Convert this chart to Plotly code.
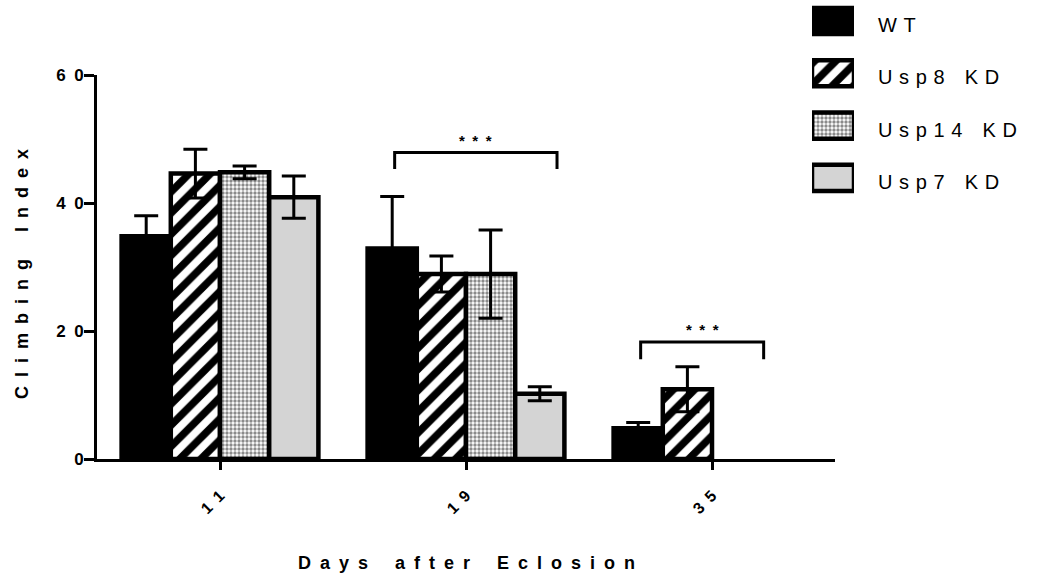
import plotly.graph_objects as go

# Climbing index per genotype at each age (mean and error)
days = ["11", "19", "35"]
genotypes = ["WT", "Usp8 KD", "Usp14 KD", "Usp7 KD"]

wt = [34.8, 32.9, 4.8]
usp8 = [44.6, 28.9, 10.9]
usp14 = [44.8, 28.9, None]
usp7 = [40.9, 10.2, None]

wt_err = [3.2, 8.1, 0.9]
usp8_err = [3.8, 2.8, 3.5]
usp14_err = [1.0, 6.9, None]
usp7_err = [3.3, 1.1, None]

y_ticks = [0, 20, 40, 60]

# Significance brackets (x in category index units, y in data units)
sig_left = [0.71, 1.71]
sig_right = [1.37, 2.21]
sig_top = [47.9, 18.3]
sig_leg = [45.3, 15.6]
sig_text = ["***", "***"]

FONT = "Liberation Sans, Arial, sans-serif"
W, H = 1043, 576


def spread(text, gap="\u2002", word_gap="\u2002\u2003"):
    """Letter-spaced version of a label."""
    return word_gap.join(gap.join(word) for word in text.split(" "))


outline = dict(color="black", width=4.5)
styles = [
    dict(color="black", line=outline),
    dict(color="white", line=outline,
         pattern=dict(shape="/", fgcolor="#000000", fgopacity=1, bgcolor="white",
                      size=15, solidity=0.5, fillmode="replace")),
    dict(color="white", line=outline,
         pattern=dict(shape=".", fgcolor="#8a8a8a", fgopacity=1, bgcolor="white",
                      size=4, solidity=0.55, fillmode="replace")),
    dict(color="#d4d4d4", line=outline),
]
series = [wt, usp8, usp14, usp7]
errors = [wt_err, usp8_err, usp14_err, usp7_err]

fig = go.Figure()
for name, vals, err, mk in zip(genotypes, series, errors, styles):
    fig.add_trace(go.Bar(
        x=days, y=vals, name=name, marker=mk, showlegend=False,
        error_y=dict(type="data", array=err, visible=True, color="black",
                     thickness=3, width=12),
        xaxis="x", yaxis="y",
    ))

# Legend key: one swatch per genotype on its own small axes
for i, (name, mk) in enumerate(zip(genotypes, styles)):
    fig.add_trace(go.Bar(
        y=[i], x=[1], orientation="h", marker=mk, width=0.5,
        showlegend=False, hoverinfo="skip", xaxis="x2", yaxis="y2",
    ))

plot_left, plot_right = 97, 835
plot_top, plot_bottom = 75, 459

fig.update_layout(
    width=W, height=H,
    margin=dict(l=0, r=0, t=0, b=0),
    paper_bgcolor="white", plot_bgcolor="white",
    barmode="group", bargap=0.2, bargroupgap=0,
    showlegend=False,
    font=dict(family=FONT, color="black"),
    xaxis=dict(
        domain=[plot_left / W, plot_right / W],
        type="category", range=[-0.5, 2.5],
        tickmode="array", tickvals=days, ticktext=[spread(d) for d in days],
        tickangle=-45, ticks="outside", ticklen=8, tickwidth=3, tickcolor="black",
        ticklabelstandoff=10,
        tickfont=dict(size=16, weight=700, family=FONT),
        showline=True, linewidth=3, linecolor="black",
        showgrid=False, zeroline=False, automargin=False, anchor="y",
    ),
    yaxis=dict(
        domain=[1 - plot_bottom / H, 1 - plot_top / H],
        range=[0, 60],
        tickmode="array", tickvals=y_ticks, ticktext=[spread(str(t)) for t in y_ticks],
        ticks="outside", ticklen=10, tickwidth=3, tickcolor="black",
        ticklabelstandoff=-3,
        tickfont=dict(size=17, weight=700, family=FONT),
        showline=True, linewidth=3, linecolor="black",
        showgrid=False, zeroline=False, automargin=False, anchor="x",
    ),
    xaxis2=dict(domain=[812 / W, 854 / W], range=[0, 1], visible=False,
                anchor="y2", fixedrange=True),
    yaxis2=dict(domain=[0.64, 1.0], range=[3.564, -0.4015], visible=False,
                anchor="x2", fixedrange=True),
)

# Legend labels
for i, name in enumerate(genotypes):
    fig.add_annotation(
        xref="x2 domain", yref="y2", x=1, xshift=22, y=i, yshift=-4,
        text=spread(name, gap="\u2004", word_gap="\u2003"),
        showarrow=False, xanchor="left", yanchor="middle",
        font=dict(size=20, family=FONT, color="black"),
    )

# Axis titles
fig.add_annotation(
    xref="paper", yref="paper",
    x=(plot_left + plot_right) / 2 / W, y=1 - 563 / H,
    text=spread("Days after Eclosion"), showarrow=False,
    xanchor="center", yanchor="middle",
    font=dict(size=18, weight=700, family=FONT),
)
fig.add_annotation(
    xref="paper", yref="paper",
    x=22 / W, y=1 - 274 / H, textangle=-90,
    text=spread("Climbing Index"), showarrow=False,
    xanchor="center", yanchor="middle",
    font=dict(size=18, weight=700, family=FONT),
)

# Significance brackets
for x0, x1, top, leg, label in zip(sig_left, sig_right, sig_top, sig_leg, sig_text):
    fig.add_shape(
        type="path", xref="x", yref="y",
        path=f"M {x0},{leg} L {x0},{top} L {x1},{top} L {x1},{leg}",
        line=dict(color="black", width=3),
    )
    fig.add_annotation(
        xref="x", yref="y", x=(x0 + x1) / 2, y=top, yshift=12,
        text=spread(label, gap="\u2002"), showarrow=False,
        xanchor="center", yanchor="middle",
        font=dict(size=15, weight=700, family=FONT),
    )

fig.write_html("out.html")
